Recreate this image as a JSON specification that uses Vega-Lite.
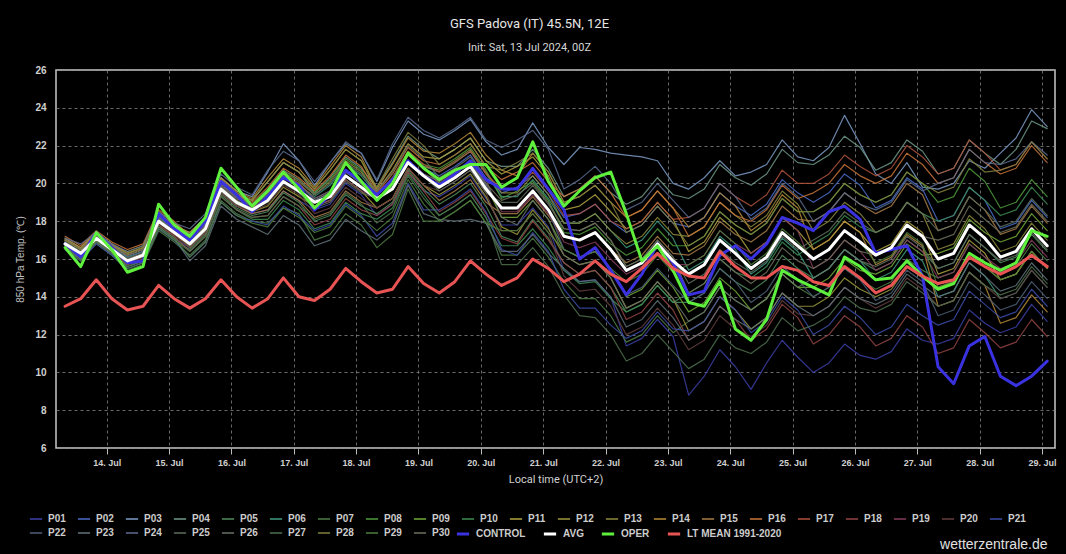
{
"$schema":"https://vega.github.io/schema/vega-lite/v6.json",
"width":999,"height":378,
"autosize":"none",
"padding":{"left":56,"top":70,"right":11,"bottom":106},
"background":"#000000",
"title":{"text":"GFS Padova (IT) 45.5N, 12E","subtitle":"Init: Sat, 13 Jul 2024, 00Z","color":"#e6e6e6","subtitleColor":"#d6d6d6","fontSize":13,"subtitleFontSize":11,"font":"Roboto","subtitleFont":"Roboto","fontWeight":"normal","anchor":"middle","dx":-26,"offset":12,"subtitlePadding":11},
"data":{"values":[
{"t":"2024-07-13T08:00","P01":16.6,"P02":16.9,"P03":17.0,"P04":17.1,"P05":16.6,"P06":16.8,"P07":16.5,"P08":17.0,"P09":16.9,"P10":16.7,"P11":17.0,"P12":16.7,"P13":16.9,"P14":17.1,"P15":16.6,"P16":17.2,"P17":17.0,"P18":16.7,"P19":16.8,"P20":16.9,"P21":16.5,"P22":16.9,"P23":16.6,"P24":17.1,"P25":16.7,"P26":17.0,"P27":16.6,"P28":17.0,"P29":16.7,"P30":16.8,"CONTROL":16.8,"AVG":16.8,"OPER":16.6,"LT":13.5},
{"t":"2024-07-13T14:00","P01":16.1,"P02":16.4,"P03":16.5,"P04":16.6,"P05":16.1,"P06":16.3,"P07":16.0,"P08":16.5,"P09":16.3,"P10":16.2,"P11":16.5,"P12":16.3,"P13":16.4,"P14":16.6,"P15":16.2,"P16":16.7,"P17":16.5,"P18":16.1,"P19":16.4,"P20":16.2,"P21":15.9,"P22":16.4,"P23":16.0,"P24":16.8,"P25":16.4,"P26":16.5,"P27":15.9,"P28":16.5,"P29":16.0,"P30":16.3,"CONTROL":16.1,"AVG":16.3,"OPER":15.6,"LT":13.9},
{"t":"2024-07-13T20:00","P01":16.9,"P02":17.2,"P03":17.3,"P04":17.4,"P05":16.9,"P06":17.1,"P07":16.8,"P08":17.3,"P09":17.2,"P10":17.0,"P11":17.3,"P12":17.0,"P13":17.2,"P14":17.4,"P15":16.9,"P16":17.5,"P17":17.3,"P18":17.0,"P19":17.1,"P20":17.2,"P21":16.8,"P22":17.2,"P23":16.9,"P24":17.4,"P25":17.0,"P26":17.3,"P27":16.9,"P28":17.3,"P29":17.0,"P30":17.1,"CONTROL":17.4,"AVG":17.1,"OPER":17.4,"LT":14.9},
{"t":"2024-07-14T02:00","P01":16.3,"P02":16.6,"P03":16.7,"P04":16.8,"P05":16.3,"P06":16.5,"P07":16.2,"P08":16.7,"P09":16.6,"P10":16.4,"P11":16.7,"P12":16.4,"P13":16.6,"P14":16.8,"P15":16.3,"P16":16.9,"P17":16.7,"P18":16.4,"P19":16.5,"P20":16.6,"P21":16.2,"P22":16.6,"P23":16.3,"P24":16.8,"P25":16.4,"P26":16.7,"P27":16.3,"P28":16.7,"P29":16.4,"P30":16.5,"CONTROL":16.6,"AVG":16.5,"OPER":16.5,"LT":13.9},
{"t":"2024-07-14T08:00","P01":15.6,"P02":16.1,"P03":16.2,"P04":16.1,"P05":15.5,"P06":16.1,"P07":15.4,"P08":16.3,"P09":15.9,"P10":15.7,"P11":16.4,"P12":15.9,"P13":16.2,"P14":16.3,"P15":15.8,"P16":16.5,"P17":16.2,"P18":15.7,"P19":16.0,"P20":15.8,"P21":15.5,"P22":16.1,"P23":15.6,"P24":16.4,"P25":16.0,"P26":16.2,"P27":15.5,"P28":16.3,"P29":15.6,"P30":16.0,"CONTROL":15.8,"AVG":15.9,"OPER":15.3,"LT":13.3},
{"t":"2024-07-14T14:00","P01":15.9,"P02":16.4,"P03":16.5,"P04":16.4,"P05":15.8,"P06":16.4,"P07":15.7,"P08":16.6,"P09":16.2,"P10":16.0,"P11":16.7,"P12":16.2,"P13":16.5,"P14":16.6,"P15":16.1,"P16":16.8,"P17":16.5,"P18":16.0,"P19":16.3,"P20":16.1,"P21":15.8,"P22":16.4,"P23":15.9,"P24":16.7,"P25":16.3,"P26":16.5,"P27":15.8,"P28":16.6,"P29":15.9,"P30":16.3,"CONTROL":15.9,"AVG":16.2,"OPER":15.6,"LT":13.5},
{"t":"2024-07-14T20:00","P01":17.7,"P02":18.2,"P03":18.3,"P04":18.2,"P05":17.6,"P06":18.2,"P07":17.5,"P08":18.4,"P09":18.0,"P10":17.8,"P11":18.5,"P12":18.0,"P13":18.3,"P14":18.4,"P15":17.9,"P16":18.6,"P17":18.3,"P18":17.8,"P19":18.1,"P20":17.9,"P21":17.6,"P22":18.2,"P23":17.7,"P24":18.5,"P25":18.1,"P26":18.3,"P27":17.6,"P28":18.4,"P29":17.7,"P30":18.1,"CONTROL":18.4,"AVG":18.0,"OPER":18.9,"LT":14.6},
{"t":"2024-07-15T02:00","P01":17.1,"P02":17.6,"P03":17.7,"P04":17.6,"P05":17.0,"P06":17.6,"P07":16.9,"P08":17.8,"P09":17.4,"P10":17.2,"P11":17.9,"P12":17.4,"P13":17.7,"P14":17.8,"P15":17.3,"P16":18.0,"P17":17.7,"P18":17.2,"P19":17.5,"P20":17.3,"P21":17.0,"P22":17.6,"P23":17.1,"P24":17.9,"P25":17.5,"P26":17.7,"P27":17.0,"P28":17.8,"P29":17.1,"P30":17.5,"CONTROL":17.6,"AVG":17.4,"OPER":17.8,"LT":13.9},
{"t":"2024-07-15T08:00","P01":16.6,"P02":17.0,"P03":17.4,"P04":17.2,"P05":16.5,"P06":17.1,"P07":16.2,"P08":17.2,"P09":16.9,"P10":16.4,"P11":17.3,"P12":16.7,"P13":17.1,"P14":17.4,"P15":16.6,"P16":17.2,"P17":17.0,"P18":16.4,"P19":16.8,"P20":16.6,"P21":16.1,"P22":17.0,"P23":15.9,"P24":17.6,"P25":16.7,"P26":17.1,"P27":16.4,"P28":17.3,"P29":16.1,"P30":16.9,"CONTROL":17.0,"AVG":16.8,"OPER":17.2,"LT":13.4},
{"t":"2024-07-15T14:00","P01":17.4,"P02":17.8,"P03":18.2,"P04":18.0,"P05":17.3,"P06":17.9,"P07":17.0,"P08":18.0,"P09":17.7,"P10":17.2,"P11":18.1,"P12":17.5,"P13":17.9,"P14":18.2,"P15":17.4,"P16":18.0,"P17":17.8,"P18":17.2,"P19":17.6,"P20":17.4,"P21":16.9,"P22":17.8,"P23":16.7,"P24":18.4,"P25":17.5,"P26":17.9,"P27":17.2,"P28":18.1,"P29":16.9,"P30":17.7,"CONTROL":18.0,"AVG":17.6,"OPER":18.2,"LT":13.9},
{"t":"2024-07-15T20:00","P01":19.5,"P02":19.9,"P03":20.3,"P04":20.1,"P05":19.4,"P06":20.0,"P07":19.1,"P08":20.1,"P09":19.8,"P10":19.3,"P11":20.2,"P12":19.6,"P13":20.0,"P14":20.3,"P15":19.5,"P16":20.1,"P17":19.9,"P18":19.3,"P19":19.7,"P20":19.5,"P21":19.0,"P22":19.9,"P23":18.8,"P24":20.5,"P25":19.6,"P26":20.0,"P27":19.3,"P28":20.2,"P29":19.0,"P30":19.8,"CONTROL":20.1,"AVG":19.7,"OPER":20.8,"LT":14.9},
{"t":"2024-07-16T02:00","P01":18.8,"P02":19.2,"P03":19.6,"P04":19.4,"P05":18.7,"P06":19.3,"P07":18.4,"P08":19.4,"P09":19.1,"P10":18.6,"P11":19.5,"P12":18.9,"P13":19.3,"P14":19.6,"P15":18.8,"P16":19.4,"P17":19.2,"P18":18.6,"P19":19.0,"P20":18.8,"P21":18.3,"P22":19.2,"P23":18.1,"P24":19.8,"P25":18.9,"P26":19.3,"P27":18.6,"P28":19.5,"P29":18.3,"P30":19.1,"CONTROL":19.4,"AVG":19.0,"OPER":19.8,"LT":14.0},
{"t":"2024-07-16T08:00","P01":18.4,"P02":18.8,"P03":19.3,"P04":19.1,"P05":18.3,"P06":18.8,"P07":18.0,"P08":18.9,"P09":18.7,"P10":18.1,"P11":19.1,"P12":18.5,"P13":18.9,"P14":19.2,"P15":18.4,"P16":19.0,"P17":18.8,"P18":18.2,"P19":18.7,"P20":18.5,"P21":18.0,"P22":18.8,"P23":17.7,"P24":19.4,"P25":18.6,"P26":18.9,"P27":18.2,"P28":19.1,"P29":17.9,"P30":18.6,"CONTROL":18.5,"AVG":18.6,"OPER":18.8,"LT":13.4},
{"t":"2024-07-16T14:00","P01":18.6,"P02":19.5,"P03":20.6,"P04":20.1,"P05":18.5,"P06":19.4,"P07":17.9,"P08":19.7,"P09":19.3,"P10":18.1,"P11":20.1,"P12":18.8,"P13":19.6,"P14":20.3,"P15":18.6,"P16":19.8,"P17":19.5,"P18":18.3,"P19":19.3,"P20":18.9,"P21":17.8,"P22":19.4,"P23":17.3,"P24":20.7,"P25":19.0,"P26":19.7,"P27":18.3,"P28":20.1,"P29":17.7,"P30":19.1,"CONTROL":19.3,"AVG":19.1,"OPER":19.6,"LT":13.9},
{"t":"2024-07-16T20:00","P01":19.6,"P02":20.5,"P03":22.1,"P04":21.1,"P05":19.5,"P06":20.4,"P07":18.7,"P08":20.7,"P09":20.3,"P10":19.1,"P11":21.1,"P12":19.8,"P13":20.6,"P14":21.3,"P15":19.6,"P16":20.8,"P17":20.5,"P18":19.3,"P19":20.3,"P20":19.9,"P21":18.8,"P22":20.4,"P23":18.3,"P24":21.7,"P25":20.0,"P26":20.7,"P27":19.3,"P28":21.1,"P29":18.7,"P30":20.1,"CONTROL":20.3,"AVG":20.1,"OPER":20.6,"LT":15.0},
{"t":"2024-07-17T02:00","P01":19.1,"P02":20.0,"P03":21.2,"P04":20.6,"P05":19.0,"P06":19.9,"P07":18.4,"P08":20.2,"P09":19.8,"P10":18.6,"P11":20.6,"P12":19.3,"P13":20.1,"P14":20.8,"P15":19.1,"P16":20.3,"P17":20.0,"P18":18.8,"P19":19.8,"P20":19.4,"P21":18.3,"P22":19.9,"P23":17.8,"P24":21.2,"P25":19.5,"P26":20.2,"P27":18.8,"P28":20.6,"P29":18.2,"P30":19.6,"CONTROL":19.9,"AVG":19.6,"OPER":19.7,"LT":14.0},
{"t":"2024-07-17T08:00","P01":18.6,"P02":19.1,"P03":19.9,"P04":19.5,"P05":18.0,"P06":19.3,"P07":17.0,"P08":19.5,"P09":19.0,"P10":17.6,"P11":19.7,"P12":18.8,"P13":19.4,"P14":19.8,"P15":18.2,"P16":19.6,"P17":19.2,"P18":17.8,"P19":18.8,"P20":18.4,"P21":17.5,"P22":19.2,"P23":16.7,"P24":20.1,"P25":18.7,"P26":19.4,"P27":18.1,"P28":19.7,"P29":17.4,"P30":19.1,"CONTROL":18.6,"AVG":19.0,"OPER":18.7,"LT":13.8},
{"t":"2024-07-17T14:00","P01":18.9,"P02":19.5,"P03":21.1,"P04":20.3,"P05":18.3,"P06":19.9,"P07":17.3,"P08":20.2,"P09":19.3,"P10":17.9,"P11":20.7,"P12":19.1,"P13":20.1,"P14":20.9,"P15":18.5,"P16":20.4,"P17":19.6,"P18":18.1,"P19":19.1,"P20":18.7,"P21":17.8,"P22":19.6,"P23":17.0,"P24":21.1,"P25":19.0,"P26":20.0,"P27":18.4,"P28":20.7,"P29":17.7,"P30":19.5,"CONTROL":19.4,"AVG":19.3,"OPER":19.5,"LT":14.4},
{"t":"2024-07-17T20:00","P01":20.0,"P02":20.6,"P03":22.1,"P04":21.4,"P05":19.4,"P06":21.0,"P07":18.4,"P08":21.3,"P09":20.4,"P10":19.0,"P11":21.8,"P12":20.2,"P13":21.2,"P14":22.0,"P15":19.6,"P16":21.5,"P17":20.7,"P18":19.2,"P19":20.2,"P20":19.8,"P21":18.9,"P22":20.7,"P23":18.1,"P24":22.2,"P25":20.1,"P26":21.1,"P27":19.5,"P28":21.8,"P29":18.8,"P30":20.6,"CONTROL":20.7,"AVG":20.4,"OPER":21.1,"LT":15.5},
{"t":"2024-07-18T02:00","P01":19.4,"P02":20.0,"P03":21.6,"P04":20.8,"P05":18.8,"P06":20.4,"P07":17.8,"P08":20.7,"P09":19.8,"P10":18.4,"P11":21.2,"P12":19.6,"P13":20.6,"P14":21.4,"P15":19.0,"P16":20.9,"P17":20.1,"P18":18.6,"P19":19.6,"P20":19.2,"P21":18.3,"P22":20.1,"P23":17.5,"P24":21.6,"P25":19.5,"P26":20.5,"P27":18.9,"P28":21.2,"P29":18.2,"P30":20.0,"CONTROL":20.1,"AVG":19.8,"OPER":20.1,"LT":14.8},
{"t":"2024-07-18T08:00","P01":18.3,"P02":19.4,"P03":20.1,"P04":19.8,"P05":18.4,"P06":19.4,"P07":16.6,"P08":19.4,"P09":19.4,"P10":18.1,"P11":19.6,"P12":18.7,"P13":19.4,"P14":19.7,"P15":18.7,"P16":19.5,"P17":19.4,"P18":18.3,"P19":19.2,"P20":18.7,"P21":17.2,"P22":19.4,"P23":17.0,"P24":20.2,"P25":19.2,"P26":19.6,"P27":17.9,"P28":19.8,"P29":17.5,"P30":19.2,"CONTROL":19.4,"AVG":19.2,"OPER":19.1,"LT":14.2},
{"t":"2024-07-18T14:00","P01":18.9,"P02":20.1,"P03":21.9,"P04":21.1,"P05":19.0,"P06":20.2,"P07":17.3,"P08":20.3,"P09":20.1,"P10":18.7,"P11":20.7,"P12":19.2,"P13":20.2,"P14":21.0,"P15":19.2,"P16":20.5,"P17":20.3,"P18":18.9,"P19":19.8,"P20":19.2,"P21":17.9,"P22":20.2,"P23":17.7,"P24":22.1,"P25":19.7,"P26":20.6,"P27":18.5,"P28":21.3,"P29":18.2,"P30":19.8,"CONTROL":20.2,"AVG":19.7,"OPER":20.0,"LT":14.4},
{"t":"2024-07-18T20:00","P01":20.6,"P02":21.5,"P03":23.3,"P04":22.5,"P05":20.7,"P06":21.6,"P07":19.7,"P08":21.7,"P09":21.5,"P10":20.5,"P11":22.1,"P12":20.8,"P13":21.6,"P14":22.4,"P15":20.8,"P16":21.9,"P17":21.7,"P18":20.6,"P19":21.2,"P20":20.8,"P21":20.0,"P22":21.6,"P23":19.9,"P24":23.5,"P25":21.1,"P26":22.0,"P27":20.4,"P28":22.7,"P29":20.2,"P30":21.2,"CONTROL":21.2,"AVG":21.1,"OPER":21.6,"LT":15.6},
{"t":"2024-07-19T02:00","P01":19.6,"P02":20.8,"P03":22.6,"P04":21.8,"P05":19.7,"P06":20.9,"P07":18.0,"P08":21.0,"P09":20.8,"P10":19.4,"P11":21.4,"P12":19.9,"P13":20.9,"P14":21.7,"P15":19.9,"P16":21.2,"P17":21.0,"P18":19.6,"P19":20.5,"P20":19.9,"P21":18.6,"P22":20.9,"P23":18.4,"P24":22.8,"P25":20.4,"P26":21.3,"P27":19.2,"P28":22.0,"P29":18.9,"P30":20.5,"CONTROL":20.4,"AVG":20.4,"OPER":20.8,"LT":14.7},
{"t":"2024-07-19T08:00","P01":19.3,"P02":20.4,"P03":22.3,"P04":21.3,"P05":18.9,"P06":20.6,"P07":18.0,"P08":20.8,"P09":20.0,"P10":18.3,"P11":21.3,"P12":19.4,"P13":20.7,"P14":21.6,"P15":19.1,"P16":21.0,"P17":20.6,"P18":18.5,"P19":20.1,"P20":19.6,"P21":18.6,"P22":20.0,"P23":18.1,"P24":22.4,"P25":19.6,"P26":20.3,"P27":18.3,"P28":21.0,"P29":18.0,"P30":20.1,"CONTROL":19.9,"AVG":19.8,"OPER":20.2,"LT":14.2},
{"t":"2024-07-19T14:00","P01":19.8,"P02":20.9,"P03":22.8,"P04":21.8,"P05":19.4,"P06":21.1,"P07":18.5,"P08":21.3,"P09":20.5,"P10":18.8,"P11":21.8,"P12":19.9,"P13":21.2,"P14":22.1,"P15":19.6,"P16":21.5,"P17":21.1,"P18":19.0,"P19":20.6,"P20":20.1,"P21":19.1,"P22":20.5,"P23":18.0,"P24":22.9,"P25":20.1,"P26":20.8,"P27":18.8,"P28":21.5,"P29":18.5,"P30":20.6,"CONTROL":20.5,"AVG":20.3,"OPER":20.7,"LT":14.8},
{"t":"2024-07-19T20:00","P01":20.4,"P02":21.5,"P03":23.4,"P04":22.4,"P05":20.0,"P06":21.7,"P07":19.1,"P08":21.9,"P09":21.1,"P10":19.4,"P11":22.4,"P12":20.5,"P13":21.8,"P14":22.7,"P15":20.2,"P16":22.1,"P17":21.7,"P18":19.6,"P19":21.2,"P20":20.7,"P21":19.7,"P22":21.1,"P23":18.1,"P24":23.5,"P25":20.7,"P26":21.4,"P27":19.4,"P28":22.1,"P29":19.1,"P30":21.2,"CONTROL":21.2,"AVG":20.9,"OPER":21.0,"LT":15.9},
{"t":"2024-07-20T02:00","P01":19.2,"P02":20.3,"P03":22.2,"P04":21.2,"P05":18.8,"P06":20.5,"P07":17.9,"P08":20.7,"P09":19.9,"P10":18.2,"P11":21.2,"P12":19.3,"P13":20.6,"P14":21.5,"P15":19.0,"P16":20.9,"P17":20.5,"P18":18.4,"P19":20.0,"P20":19.5,"P21":18.5,"P22":19.9,"P23":17.9,"P24":22.3,"P25":19.5,"P26":20.2,"P27":18.2,"P28":20.9,"P29":17.9,"P30":20.0,"CONTROL":20.2,"AVG":19.7,"OPER":21.0,"LT":15.2},
{"t":"2024-07-20T08:00","P01":17.8,"P02":19.5,"P03":21.5,"P04":20.9,"P05":17.2,"P06":19.3,"P07":16.2,"P08":19.2,"P09":18.2,"P10":16.7,"P11":20.5,"P12":17.7,"P13":19.5,"P14":20.7,"P15":18.4,"P16":20.2,"P17":19.7,"P18":17.1,"P19":18.5,"P20":17.5,"P21":16.5,"P22":18.7,"P23":16.4,"P24":21.9,"P25":19.0,"P26":18.2,"P27":15.7,"P28":20.7,"P29":17.5,"P30":19.1,"CONTROL":19.7,"AVG":18.7,"OPER":19.8,"LT":14.6},
{"t":"2024-07-20T14:00","P01":17.8,"P02":19.8,"P03":21.8,"P04":20.9,"P05":16.9,"P06":19.3,"P07":16.2,"P08":19.6,"P09":18.2,"P10":16.7,"P11":20.9,"P12":17.3,"P13":19.5,"P14":20.4,"P15":18.4,"P16":20.6,"P17":19.7,"P18":16.8,"P19":18.5,"P20":17.5,"P21":16.2,"P22":18.7,"P23":16.4,"P24":22.3,"P25":19.0,"P26":17.8,"P27":15.7,"P28":21.1,"P29":17.5,"P30":19.4,"CONTROL":19.7,"AVG":18.7,"OPER":20.3,"LT":15.0},
{"t":"2024-07-20T20:00","P01":18.7,"P02":20.4,"P03":23.2,"P04":21.8,"P05":18.1,"P06":20.2,"P07":17.1,"P08":20.1,"P09":19.1,"P10":17.6,"P11":21.4,"P12":18.6,"P13":20.4,"P14":21.6,"P15":19.3,"P16":21.1,"P17":20.6,"P18":18.0,"P19":19.4,"P20":18.4,"P21":17.4,"P22":19.6,"P23":17.3,"P24":22.8,"P25":19.9,"P26":19.1,"P27":16.6,"P28":21.6,"P29":18.4,"P30":20.0,"CONTROL":20.8,"AVG":19.6,"OPER":22.2,"LT":16.0},
{"t":"2024-07-21T02:00","P01":17.7,"P02":19.4,"P03":21.9,"P04":20.8,"P05":17.1,"P06":19.2,"P07":16.1,"P08":19.1,"P09":18.1,"P10":16.6,"P11":20.4,"P12":17.6,"P13":19.4,"P14":20.6,"P15":18.3,"P16":20.1,"P17":19.6,"P18":17.0,"P19":18.4,"P20":17.4,"P21":16.4,"P22":18.6,"P23":16.3,"P24":21.8,"P25":18.9,"P26":18.1,"P27":15.6,"P28":20.6,"P29":17.4,"P30":19.0,"CONTROL":19.7,"AVG":18.6,"OPER":20.1,"LT":15.5},
{"t":"2024-07-21T08:00","P01":15.4,"P02":18.2,"P03":21.0,"P04":19.3,"P05":15.8,"P06":17.9,"P07":14.8,"P08":17.4,"P09":16.5,"P10":15.4,"P11":18.6,"P12":16.2,"P13":17.9,"P14":19.0,"P15":17.2,"P16":19.3,"P17":18.3,"P18":15.8,"P19":16.9,"P20":15.1,"P21":14.4,"P22":16.5,"P23":15.5,"P24":19.7,"P25":17.6,"P26":16.2,"P27":14.1,"P28":19.0,"P29":16.5,"P30":17.6,"CONTROL":18.6,"AVG":17.2,"OPER":18.8,"LT":14.8},
{"t":"2024-07-21T14:00","P01":14.8,"P02":18.4,"P03":21.9,"P04":19.7,"P05":15.2,"P06":17.9,"P07":13.9,"P08":17.3,"P09":16.1,"P10":14.7,"P11":18.8,"P12":15.7,"P13":17.9,"P14":19.3,"P15":17.0,"P16":19.7,"P17":18.4,"P18":15.2,"P19":16.6,"P20":14.3,"P21":13.4,"P22":16.1,"P23":14.8,"P24":20.2,"P25":17.5,"P26":15.7,"P27":13.0,"P28":19.3,"P29":16.1,"P30":17.5,"CONTROL":16.0,"AVG":17.0,"OPER":19.6,"LT":15.2},
{"t":"2024-07-21T20:00","P01":14.9,"P02":18.9,"P03":21.8,"P04":20.4,"P05":15.4,"P06":18.4,"P07":13.9,"P08":17.7,"P09":16.4,"P10":14.8,"P11":19.4,"P12":15.9,"P13":18.4,"P14":19.9,"P15":17.4,"P16":20.4,"P17":18.9,"P18":15.4,"P19":16.9,"P20":14.4,"P21":13.4,"P22":16.4,"P23":14.9,"P24":20.9,"P25":17.9,"P26":15.9,"P27":12.9,"P28":19.9,"P29":16.4,"P30":17.9,"CONTROL":16.6,"AVG":17.4,"OPER":20.3,"LT":15.9},
{"t":"2024-07-22T02:00","P01":14.0,"P02":18.0,"P03":21.6,"P04":19.5,"P05":14.5,"P06":17.5,"P07":13.0,"P08":16.8,"P09":15.5,"P10":13.9,"P11":18.5,"P12":15.0,"P13":17.5,"P14":19.0,"P15":16.5,"P16":19.5,"P17":18.0,"P18":14.5,"P19":16.0,"P20":13.5,"P21":12.5,"P22":15.5,"P23":14.0,"P24":20.0,"P25":17.0,"P26":15.0,"P27":12.0,"P28":19.0,"P29":15.5,"P30":17.0,"CONTROL":15.4,"AVG":16.5,"OPER":20.6,"LT":15.2},
{"t":"2024-07-22T08:00","P01":11.4,"P02":17.4,"P03":21.5,"P04":18.9,"P05":13.2,"P06":16.6,"P07":11.6,"P08":16.2,"P09":14.0,"P10":13.2,"P11":17.6,"P12":13.4,"P13":16.8,"P14":18.2,"P15":15.8,"P16":18.2,"P17":17.6,"P18":12.8,"P19":15.2,"P20":12.0,"P21":11.8,"P22":14.1,"P23":12.4,"P24":18.6,"P25":15.6,"P26":13.4,"P27":10.6,"P28":17.4,"P29":14.8,"P30":15.6,"CONTROL":14.1,"AVG":15.4,"OPER":18.4,"LT":14.8},
{"t":"2024-07-22T14:00","P01":11.8,"P02":17.8,"P03":21.4,"P04":19.3,"P05":13.6,"P06":17.0,"P07":12.0,"P08":16.6,"P09":14.4,"P10":13.6,"P11":18.0,"P12":13.8,"P13":17.2,"P14":18.6,"P15":16.2,"P16":18.6,"P17":18.0,"P18":13.2,"P19":15.6,"P20":12.4,"P21":12.2,"P22":14.5,"P23":12.8,"P24":19.0,"P25":16.0,"P26":13.8,"P27":11.0,"P28":17.8,"P29":15.2,"P30":16.0,"CONTROL":15.2,"AVG":15.8,"OPER":15.9,"LT":15.5},
{"t":"2024-07-22T20:00","P01":12.8,"P02":18.8,"P03":21.2,"P04":20.3,"P05":14.6,"P06":18.0,"P07":13.0,"P08":17.6,"P09":15.4,"P10":14.6,"P11":19.0,"P12":14.8,"P13":18.2,"P14":19.6,"P15":17.2,"P16":19.6,"P17":19.0,"P18":14.2,"P19":16.6,"P20":13.4,"P21":13.2,"P22":15.5,"P23":13.8,"P24":20.0,"P25":17.0,"P26":14.8,"P27":12.0,"P28":18.8,"P29":16.2,"P30":17.0,"CONTROL":16.8,"AVG":16.8,"OPER":16.7,"LT":16.3},
{"t":"2024-07-23T02:00","P01":11.9,"P02":17.9,"P03":20.0,"P04":19.4,"P05":13.7,"P06":17.1,"P07":12.1,"P08":16.7,"P09":14.5,"P10":13.7,"P11":18.1,"P12":13.9,"P13":17.3,"P14":18.7,"P15":16.3,"P16":18.7,"P17":18.1,"P18":13.3,"P19":15.7,"P20":12.5,"P21":12.3,"P22":14.6,"P23":12.9,"P24":19.1,"P25":16.1,"P26":13.9,"P27":11.1,"P28":17.9,"P29":15.3,"P30":16.1,"CONTROL":15.8,"AVG":15.9,"OPER":15.4,"LT":15.5},
{"t":"2024-07-23T08:00","P01":8.8,"P02":17.7,"P03":19.7,"P04":19.2,"P05":13.7,"P06":15.4,"P07":12.7,"P08":16.7,"P09":13.2,"P10":14.2,"P11":16.4,"P12":12.2,"P13":17.2,"P14":17.7,"P15":16.2,"P16":17.2,"P17":18.2,"P18":11.7,"P19":15.7,"P20":11.2,"P21":12.2,"P22":13.7,"P23":11.7,"P24":18.2,"P25":14.7,"P26":12.7,"P27":10.2,"P28":16.7,"P29":15.7,"P30":14.2,"CONTROL":14.1,"AVG":15.2,"OPER":13.7,"LT":15.1},
{"t":"2024-07-23T14:00","P01":9.8,"P02":18.2,"P03":20.3,"P04":19.7,"P05":14.2,"P06":15.9,"P07":13.2,"P08":17.2,"P09":13.7,"P10":14.7,"P11":16.9,"P12":12.7,"P13":17.7,"P14":18.2,"P15":16.7,"P16":17.7,"P17":18.7,"P18":12.2,"P19":16.2,"P20":11.7,"P21":12.7,"P22":14.2,"P23":12.2,"P24":18.7,"P25":15.2,"P26":13.2,"P27":10.7,"P28":17.2,"P29":16.2,"P30":14.7,"CONTROL":14.3,"AVG":15.7,"OPER":13.5,"LT":15.0},
{"t":"2024-07-23T20:00","P01":11.2,"P02":19.5,"P03":21.2,"P04":21.0,"P05":15.5,"P06":17.2,"P07":14.5,"P08":18.5,"P09":15.0,"P10":16.0,"P11":18.2,"P12":14.0,"P13":19.0,"P14":19.5,"P15":18.0,"P16":19.0,"P17":20.0,"P18":13.5,"P19":17.5,"P20":13.0,"P21":14.0,"P22":15.5,"P23":13.5,"P24":20.0,"P25":16.5,"P26":14.5,"P27":12.0,"P28":18.5,"P29":17.5,"P30":16.0,"CONTROL":16.2,"AVG":17.0,"OPER":14.8,"LT":16.4},
{"t":"2024-07-24T02:00","P01":10.3,"P02":18.8,"P03":20.4,"P04":20.3,"P05":14.8,"P06":16.5,"P07":13.8,"P08":17.8,"P09":14.3,"P10":15.3,"P11":17.5,"P12":13.3,"P13":18.3,"P14":18.8,"P15":17.3,"P16":18.3,"P17":19.3,"P18":12.8,"P19":16.8,"P20":12.3,"P21":13.3,"P22":14.8,"P23":12.8,"P24":19.3,"P25":15.8,"P26":13.8,"P27":11.3,"P28":17.8,"P29":16.8,"P30":15.3,"CONTROL":16.7,"AVG":16.3,"OPER":12.3,"LT":15.6},
{"t":"2024-07-24T08:00","P01":9.1,"P02":18.3,"P03":20.6,"P04":19.9,"P05":14.3,"P06":15.2,"P07":13.3,"P08":17.3,"P09":13.3,"P10":15.0,"P11":16.3,"P12":12.3,"P13":17.7,"P14":17.5,"P15":16.9,"P16":18.0,"P17":18.8,"P18":11.7,"P19":16.3,"P20":11.9,"P21":12.1,"P22":13.7,"P23":12.3,"P24":18.1,"P25":15.3,"P26":13.3,"P27":11.0,"P28":17.3,"P29":15.7,"P30":14.7,"CONTROL":16.0,"AVG":15.5,"OPER":11.7,"LT":15.0},
{"t":"2024-07-24T14:00","P01":10.5,"P02":18.9,"P03":21.0,"P04":20.5,"P05":14.9,"P06":15.8,"P07":13.9,"P08":17.9,"P09":13.9,"P10":15.6,"P11":16.9,"P12":12.9,"P13":18.3,"P14":18.1,"P15":17.5,"P16":18.6,"P17":19.4,"P18":12.3,"P19":16.9,"P20":12.5,"P21":12.7,"P22":14.3,"P23":12.9,"P24":18.7,"P25":15.9,"P26":13.9,"P27":11.6,"P28":17.9,"P29":16.3,"P30":15.3,"CONTROL":16.8,"AVG":16.1,"OPER":12.8,"LT":15.0},
{"t":"2024-07-24T20:00","P01":11.7,"P02":20.2,"P03":22.3,"P04":21.8,"P05":16.2,"P06":17.1,"P07":15.2,"P08":19.2,"P09":15.2,"P10":16.9,"P11":18.2,"P12":14.2,"P13":19.6,"P14":19.4,"P15":18.8,"P16":19.9,"P17":20.7,"P18":13.6,"P19":18.2,"P20":13.8,"P21":14.0,"P22":15.6,"P23":14.2,"P24":20.0,"P25":17.2,"P26":15.2,"P27":12.9,"P28":19.2,"P29":17.6,"P30":16.6,"CONTROL":18.2,"AVG":17.4,"OPER":15.4,"LT":15.6},
{"t":"2024-07-25T02:00","P01":10.8,"P02":19.5,"P03":21.4,"P04":21.1,"P05":15.5,"P06":16.4,"P07":14.5,"P08":18.5,"P09":14.5,"P10":16.2,"P11":17.5,"P12":13.5,"P13":18.9,"P14":18.7,"P15":18.1,"P16":19.2,"P17":20.0,"P18":12.9,"P19":17.5,"P20":13.1,"P21":13.3,"P22":14.9,"P23":13.5,"P24":19.3,"P25":16.5,"P26":14.5,"P27":12.2,"P28":18.5,"P29":16.9,"P30":15.9,"CONTROL":17.9,"AVG":16.7,"OPER":14.9,"LT":15.4},
{"t":"2024-07-25T08:00","P01":10.0,"P02":19.0,"P03":21.2,"P04":21.0,"P05":15.0,"P06":15.0,"P07":14.0,"P08":18.5,"P09":14.5,"P10":16.8,"P11":16.5,"P12":13.5,"P13":17.5,"P14":16.5,"P15":18.0,"P16":19.5,"P17":20.0,"P18":11.5,"P19":15.5,"P20":13.0,"P21":12.0,"P22":14.0,"P23":13.0,"P24":18.0,"P25":17.0,"P26":15.0,"P27":12.5,"P28":18.5,"P29":16.0,"P30":15.5,"CONTROL":17.5,"AVG":16.0,"OPER":14.5,"LT":14.8},
{"t":"2024-07-25T14:00","P01":10.5,"P02":19.5,"P03":21.9,"P04":21.5,"P05":15.5,"P06":15.5,"P07":14.5,"P08":19.0,"P09":15.0,"P10":17.3,"P11":17.0,"P12":14.0,"P13":18.0,"P14":17.0,"P15":18.5,"P16":20.0,"P17":20.5,"P18":12.0,"P19":16.0,"P20":13.5,"P21":12.5,"P22":14.5,"P23":13.5,"P24":18.5,"P25":17.5,"P26":15.5,"P27":13.0,"P28":19.0,"P29":16.5,"P30":16.0,"CONTROL":18.5,"AVG":16.5,"OPER":14.1,"LT":14.6},
{"t":"2024-07-25T20:00","P01":11.5,"P02":20.5,"P03":23.6,"P04":22.5,"P05":16.5,"P06":16.5,"P07":15.5,"P08":20.0,"P09":16.0,"P10":18.3,"P11":18.0,"P12":15.0,"P13":19.0,"P14":18.0,"P15":19.5,"P16":21.0,"P17":21.5,"P18":13.0,"P19":17.0,"P20":14.5,"P21":13.5,"P22":15.5,"P23":14.5,"P24":19.5,"P25":18.5,"P26":16.5,"P27":14.0,"P28":20.0,"P29":17.5,"P30":17.0,"CONTROL":18.8,"AVG":17.5,"OPER":16.1,"LT":15.6},
{"t":"2024-07-26T02:00","P01":10.9,"P02":19.9,"P03":22.1,"P04":21.9,"P05":15.9,"P06":15.9,"P07":14.9,"P08":19.4,"P09":15.4,"P10":17.7,"P11":17.4,"P12":14.4,"P13":18.4,"P14":17.4,"P15":18.9,"P16":20.4,"P17":20.9,"P18":12.4,"P19":16.4,"P20":13.9,"P21":12.9,"P22":14.9,"P23":13.9,"P24":18.9,"P25":17.9,"P26":15.9,"P27":13.4,"P28":19.4,"P29":16.9,"P30":16.4,"CONTROL":18.1,"AVG":16.9,"OPER":15.6,"LT":15.0},
{"t":"2024-07-26T08:00","P01":10.7,"P02":18.7,"P03":20.5,"P04":20.7,"P05":15.4,"P06":14.9,"P07":14.4,"P08":19.0,"P09":15.2,"P10":17.4,"P11":16.4,"P12":14.0,"P13":17.4,"P14":15.7,"P15":18.4,"P16":20.0,"P17":20.4,"P18":11.4,"P19":15.4,"P20":13.4,"P21":12.0,"P22":13.8,"P23":13.6,"P24":18.6,"P25":17.4,"P26":15.6,"P27":13.2,"P28":19.0,"P29":15.8,"P30":16.2,"CONTROL":16.3,"AVG":16.2,"OPER":14.9,"LT":14.2},
{"t":"2024-07-26T14:00","P01":11.1,"P02":19.1,"P03":20.0,"P04":21.1,"P05":15.8,"P06":15.3,"P07":14.8,"P08":19.4,"P09":15.6,"P10":17.8,"P11":16.8,"P12":14.4,"P13":17.8,"P14":16.1,"P15":18.8,"P16":20.4,"P17":20.8,"P18":11.8,"P19":15.8,"P20":13.8,"P21":12.4,"P22":14.2,"P23":14.0,"P24":19.0,"P25":17.8,"P26":16.0,"P27":13.6,"P28":19.4,"P29":16.2,"P30":16.6,"CONTROL":16.5,"AVG":16.6,"OPER":15.0,"LT":14.6},
{"t":"2024-07-26T20:00","P01":12.3,"P02":20.3,"P03":21.1,"P04":22.3,"P05":17.0,"P06":16.5,"P07":16.0,"P08":20.6,"P09":16.8,"P10":19.0,"P11":18.0,"P12":15.6,"P13":19.0,"P14":17.3,"P15":20.0,"P16":21.6,"P17":22.0,"P18":13.0,"P19":17.0,"P20":15.0,"P21":13.6,"P22":15.4,"P23":15.2,"P24":20.2,"P25":19.0,"P26":17.2,"P27":14.8,"P28":20.6,"P29":17.4,"P30":17.8,"CONTROL":16.7,"AVG":17.8,"OPER":15.9,"LT":15.6},
{"t":"2024-07-27T02:00","P01":11.7,"P02":19.7,"P03":19.8,"P04":21.7,"P05":16.4,"P06":15.9,"P07":15.4,"P08":20.0,"P09":16.2,"P10":18.4,"P11":17.4,"P12":15.0,"P13":18.4,"P14":16.7,"P15":19.4,"P16":21.0,"P17":21.4,"P18":12.4,"P19":16.4,"P20":14.4,"P21":13.0,"P22":14.8,"P23":14.6,"P24":19.6,"P25":18.4,"P26":16.6,"P27":14.2,"P28":20.0,"P29":16.8,"P30":17.2,"CONTROL":15.1,"AVG":17.2,"OPER":15.1,"LT":15.1},
{"t":"2024-07-27T08:00","P01":11.5,"P02":18.0,"P03":19.7,"P04":20.5,"P05":15.5,"P06":14.0,"P07":15.0,"P08":19.0,"P09":16.3,"P10":18.0,"P11":15.2,"P12":14.5,"P13":16.5,"P14":13.5,"P15":17.5,"P16":20.0,"P17":20.5,"P18":11.0,"P19":15.0,"P20":13.5,"P21":12.5,"P22":13.0,"P23":14.0,"P24":20.0,"P25":17.5,"P26":15.5,"P27":13.5,"P28":19.5,"P29":14.5,"P30":17.0,"CONTROL":10.3,"AVG":16.0,"OPER":14.4,"LT":14.7},
{"t":"2024-07-27T14:00","P01":11.8,"P02":18.3,"P03":20.0,"P04":20.8,"P05":15.8,"P06":14.3,"P07":15.3,"P08":19.3,"P09":16.6,"P10":18.3,"P11":15.5,"P12":14.8,"P13":16.8,"P14":13.8,"P15":17.8,"P16":20.3,"P17":20.8,"P18":11.3,"P19":15.3,"P20":13.8,"P21":12.8,"P22":13.3,"P23":14.3,"P24":20.3,"P25":17.8,"P26":15.8,"P27":13.8,"P28":19.8,"P29":14.8,"P30":17.3,"CONTROL":9.4,"AVG":16.3,"OPER":14.7,"LT":14.9},
{"t":"2024-07-27T20:00","P01":13.3,"P02":19.8,"P03":21.2,"P04":22.3,"P05":17.3,"P06":15.8,"P07":16.8,"P08":20.8,"P09":18.1,"P10":19.8,"P11":17.0,"P12":16.3,"P13":18.3,"P14":15.3,"P15":19.3,"P16":21.8,"P17":22.3,"P18":12.8,"P19":16.8,"P20":15.3,"P21":14.3,"P22":14.8,"P23":15.8,"P24":21.8,"P25":19.3,"P26":17.3,"P27":15.3,"P28":21.3,"P29":16.3,"P30":18.8,"CONTROL":11.4,"AVG":17.8,"OPER":16.3,"LT":16.1},
{"t":"2024-07-28T02:00","P01":12.6,"P02":19.1,"P03":20.8,"P04":21.6,"P05":16.6,"P06":15.1,"P07":16.1,"P08":20.1,"P09":17.4,"P10":19.1,"P11":16.3,"P12":15.6,"P13":17.6,"P14":14.6,"P15":18.6,"P16":21.1,"P17":21.6,"P18":12.1,"P19":16.1,"P20":14.6,"P21":13.6,"P22":14.1,"P23":15.1,"P24":21.1,"P25":18.6,"P26":16.6,"P27":14.6,"P28":20.6,"P29":15.6,"P30":18.1,"CONTROL":11.9,"AVG":17.1,"OPER":15.8,"LT":15.6},
{"t":"2024-07-28T08:00","P01":12.1,"P02":17.6,"P03":21.6,"P04":21.0,"P05":15.8,"P06":13.9,"P07":15.3,"P08":18.7,"P09":16.9,"P10":18.3,"P11":14.9,"P12":14.9,"P13":16.4,"P14":12.6,"P15":17.3,"P16":20.5,"P17":20.7,"P18":11.3,"P19":15.5,"P20":13.9,"P21":12.9,"P22":13.3,"P23":14.3,"P24":21.0,"P25":17.7,"P26":15.9,"P27":14.1,"P28":20.7,"P29":14.9,"P30":17.4,"CONTROL":9.8,"AVG":16.1,"OPER":15.4,"LT":15.2},
{"t":"2024-07-28T14:00","P01":12.4,"P02":17.9,"P03":22.4,"P04":21.8,"P05":16.1,"P06":14.2,"P07":15.6,"P08":19.0,"P09":17.2,"P10":18.6,"P11":15.2,"P12":15.2,"P13":16.7,"P14":12.9,"P15":17.6,"P16":20.8,"P17":21.0,"P18":11.6,"P19":15.8,"P20":14.2,"P21":13.2,"P22":13.6,"P23":14.6,"P24":21.3,"P25":18.0,"P26":16.2,"P27":14.4,"P28":21.0,"P29":15.2,"P30":17.7,"CONTROL":9.3,"AVG":16.4,"OPER":15.8,"LT":15.6},
{"t":"2024-07-28T20:00","P01":13.6,"P02":19.1,"P03":23.9,"P04":23.3,"P05":17.3,"P06":15.4,"P07":16.8,"P08":20.2,"P09":18.4,"P10":19.8,"P11":16.4,"P12":16.4,"P13":17.9,"P14":14.1,"P15":18.8,"P16":22.0,"P17":22.2,"P18":12.8,"P19":17.0,"P20":15.4,"P21":14.4,"P22":14.8,"P23":15.8,"P24":22.2,"P25":19.2,"P26":17.4,"P27":15.6,"P28":22.2,"P29":16.4,"P30":18.9,"CONTROL":9.8,"AVG":17.6,"OPER":17.5,"LT":16.2},
{"t":"2024-07-29T02:00","P01":12.7,"P02":18.2,"P03":23.0,"P04":22.9,"P05":16.4,"P06":14.5,"P07":15.9,"P08":19.3,"P09":17.5,"P10":18.9,"P11":15.5,"P12":15.5,"P13":17.0,"P14":13.2,"P15":17.9,"P16":21.1,"P17":21.3,"P18":11.9,"P19":16.1,"P20":14.5,"P21":13.5,"P22":13.9,"P23":14.9,"P24":21.5,"P25":18.3,"P26":16.5,"P27":14.7,"P28":21.3,"P29":15.5,"P30":18.0,"CONTROL":10.6,"AVG":16.7,"OPER":17.2,"LT":15.6}
]},
"encoding":{
"x":{"field":"t","type":"temporal","scale":{"domain":[{"year":2024,"month":7,"date":13,"hours":4,"minutes":30},{"year":2024,"month":7,"date":29,"hours":5}]},
"axis":{"format":"%-d. %b","tickCount":{"interval":"day","step":1},"title":"Local time (UTC+2)","titleColor":"#d0d0d0","titleFontSize":11,"titleFont":"Roboto","titleFontWeight":"normal","titlePadding":6,"labelColor":"#d0d0d0","labelFontSize":9,"labelFont":"Liberation Sans","labelFontWeight":"bold","labelPadding":4,"tickSize":6,"tickColor":"#bbbbbb","domain":false,"grid":true,"gridColor":"#8c8c8c","gridDash":[3,3],"gridOpacity":0.75,"labelFlush":false,"labelOverlap":false}}
},
"layer":[
{"transform":[{"fold":["P01","P02","P03","P04","P05","P06","P07","P08","P09","P10","P11","P12","P13","P14","P15","P16","P17","P18","P19","P20","P21","P22","P23","P24","P25","P26","P27","P28","P29","P30"],"as":["series","temp"]}],
"mark":{"type":"line","strokeWidth":1.2,"opacity":0.85,"strokeJoin":"round","strokeCap":"round"},
"encoding":{"y":{"field":"temp","type":"quantitative","scale":{"domain":[6,26],"nice":false,"zero":false},
"axis":{"values":[6,8,10,12,14,16,18,20,22,24,26],"title":"850 hPa Temp. (℃)","titleColor":"#c0c0c0","titleFontSize":10,"titleFont":"Liberation Sans","titleFontWeight":"normal","titlePadding":9,"labelColor":"#d0d0d0","labelFontSize":10,"labelFont":"Liberation Sans","labelFontWeight":"bold","labelPadding":10,"ticks":false,"domain":false,"grid":true,"gridColor":"#8c8c8c","gridDash":[3,3],"gridOpacity":0.75}},
"color":{"field":"series","type":"nominal",
"scale":{"domain":["P01","P02","P03","P04","P05","P06","P07","P08","P09","P10","P11","P12","P13","P14","P15","P16","P17","P18","P19","P20","P21","P22","P23","P24","P25","P26","P27","P28","P29","P30"],
"range":["#3c40a8","#4a6cc8","#7d9cc8","#6f9a88","#4f8c5c","#3f9a80","#4e7c44","#4f9c3c","#72aa3a","#3e8c52","#b0a442","#9c9a3c","#8c8a3c","#b88c3a","#a87c48","#c8743a","#b0523c","#944444","#843c5c","#643e3e","#3c4ca8","#4e6078","#60727a","#5c6c90","#5e6e5e","#667066","#4e704e","#80803e","#4e7e3c","#6e6e5c"]},
"legend":{"title":null,"orient":"none","legendX":-27,"legendY":442,"direction":"horizontal","columns":21,"symbolLimit":40,"labelColor":"#cccccc","labelFont":"Liberation Sans","labelFontSize":10,"labelFontWeight":"bold","symbolType":"stroke","symbolSize":150,"symbolStrokeWidth":1.5,"symbolOpacity":1,"labelOffset":5,"columnPadding":8,"rowPadding":2}}}},
{"transform":[{"fold":["CONTROL","AVG","OPER","LT"],"as":["series","temp"]}],
"mark":{"type":"line","strokeWidth":3,"strokeJoin":"round","strokeCap":"round"},
"encoding":{"y":{"field":"temp","type":"quantitative","scale":{"domain":[6,26],"nice":false,"zero":false},
"axis":{"orient":"right","title":"wetterzentrale.de","labels":false,"ticks":false,"domain":false,"grid":false,"titleAngle":0,"titleX":-8,"titleY":474,"titleAlign":"right","titleBaseline":"middle","titleFontSize":14,"titleFont":"Liberation Sans","titleFontWeight":"normal","titleColor":"#e0e0e0"}},
"color":{"field":"series","type":"nominal",
"scale":{"domain":["CONTROL","AVG","OPER","LT"],"range":["#3a32e0","#ffffff","#5ef03c","#e85454"]},
"legend":{"title":null,"orient":"none","legendX":399,"legendY":456,"direction":"horizontal","columns":4,"labelColor":"#cccccc","labelFont":"Liberation Sans","labelFontSize":10,"labelFontWeight":"bold","symbolType":"stroke","symbolSize":150,"symbolStrokeWidth":3,"labelOffset":5,"columnPadding":11,"rowPadding":2,"labelLimit":200,"labelExpr":"datum.label == 'LT' ? 'LT MEAN 1991-2020' : datum.label"}}}}
],
"resolve":{"axis":{"y":"independent"},"scale":{"color":"independent"}},
"config":{"view":{"stroke":"#c8c8c8","strokeWidth":1.5}}
}
